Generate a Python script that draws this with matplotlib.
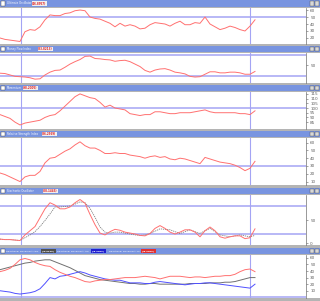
import numpy as np
import matplotlib
matplotlib.use('Agg')
import matplotlib.pyplot as plt
from matplotlib.patches import Rectangle

W, H = 320, 301

# bar index (one bar every 5 px in the reference)
days = np.arange(52)

ultimate = [20, 18, 17, 16, 15, 29, 32, 31, 36, 46, 53, 52, 52, 55, 56, 59, 60, 59, 50, 48,
            47, 44, 41, 36, 41, 37, 39, 37, 33, 34, 39, 42, 41, 40, 37, 41, 44, 39, 39, 42,
            41, 50, 40, 36, 32, 34, 37, 35, 32, 30, 37, 46]
mfi = [28, 27, 23, 19, 18, 17, 15, 11, 12, 23, 31, 36, 37, 45, 54, 61, 67, 76, 77, 70,
       69, 67, 66, 62, 64, 65, 61, 54, 47, 36, 31, 37, 40, 41, 37, 31, 29, 26, 19, 17,
       18, 25, 32, 32, 29, 29, 31, 31, 29, 25, 25, 33]
momentum = [93, 91, 89, 85, 82, 84, 85, 86, 87, 90, 92, 93, 97, 102, 107, 112, 115, 113, 111, 110,
            106, 101, 103, 100, 99, 98, 94, 93, 92, 93, 93, 96, 96, 95, 94, 94, 95, 95, 95, 96,
            97, 98, 96, 95, 95, 95, 95, 95, 94, 94, 93, 97]
rsi = [21, 19, 16, 13, 10, 16, 18, 18, 23, 34, 40, 41, 45, 49, 52, 57, 61, 56, 53, 53,
       50, 46, 46, 47, 46, 46, 44, 43, 42, 40, 42, 43, 41, 42, 39, 38, 40, 39, 37, 35,
       33, 41, 39, 37, 35, 34, 33, 31, 28, 24, 27, 36]
stoch_k = [9, 8, 8, 7, 6, 18, 27, 36, 55, 74, 87, 82, 74, 74, 78, 87, 94, 86, 62, 40,
           22, 18, 25, 30, 28, 24, 22, 20, 17, 16, 21, 32, 38, 32, 24, 20, 24, 29, 29, 24,
           14, 27, 35, 27, 14, 11, 14, 16, 16, 10, 12, 31]
stoch_d = [9, 8, 8, 7, 6, 12, 18, 25, 36, 49, 63, 78, 78, 79, 80, 84, 89, 87, 75, 56,
           35, 24, 22, 24, 24, 22, 20, 18, 17, 18, 21, 26, 31, 30, 29, 25, 21, 25, 29, 25,
           21, 27, 32, 25, 18, 16, 14, 16, 18, 16, 14, 17]
adx = [42, 44, 46, 48, 50, 52, 53, 55, 56, 57, 57, 54, 51, 48, 45, 41, 37, 33, 31, 29,
       27, 26, 25, 24, 23, 22, 21, 21, 20, 20, 21, 21, 20, 20, 20, 20, 20, 20, 21, 21,
       21, 21, 22, 22, 22, 23, 23, 24, 26, 28, 30, 30]
plus_di = [10, 9, 8, 6, 5, 6, 7, 9, 13, 21, 30, 28, 32, 33, 35, 37, 39, 37, 34, 32,
           30, 28, 27, 26, 26, 24, 22, 22, 22, 21, 21, 23, 24, 23, 22, 21, 20, 19, 20, 21,
           21, 22, 22, 21, 20, 19, 18, 17, 16, 15, 14, 20]
minus_di = [39, 41, 44, 50, 57, 59, 57, 53, 50, 48, 47, 42, 38, 35, 32, 30, 27, 24, 23, 25,
            26, 27, 27, 28, 29, 30, 30, 30, 31, 32, 31, 30, 28, 30, 32, 32, 32, 31, 30, 31,
            31, 30, 31, 32, 32, 33, 33, 35, 39, 42, 43, 39]

RED = '#ff7070'
LEVEL = '#a4a4f4'
HEAD = '#7894e0'
FS = 1.9

fig = plt.figure(figsize=(W / 100, H / 100), dpi=100)
fig.patch.set_facecolor('#b4b4b4')


def header(y0, y1, items, fs=FS, pad=0.15):
    fig.patches.append(Rectangle((0, 1 - y1 / H), 1, (y1 - y0) / H,
                                 transform=fig.transFigure, facecolor=HEAD,
                                 edgecolor='none', zorder=0))
    # little check box on the left and buttons on the right
    fig.patches.append(Rectangle((1 / W, 1 - (y1 - 1) / H), 4 / W, (y1 - y0 - 2) / H,
                                 transform=fig.transFigure, facecolor='white',
                                 edgecolor='#404040', lw=0.3, zorder=1))
    for bx in (310, 315):
        fig.patches.append(Rectangle((bx / W, 1 - (y1 - 1) / H), 4 / W, (y1 - y0 - 2) / H,
                                     transform=fig.transFigure, facecolor='#d8d8d8',
                                     edgecolor='#505050', lw=0.3, zorder=1))
    ym = 1 - (y0 + y1) / 2 / H
    for tx, txt, bx, badge, bfc, btc in items:
        fig.text(tx / W, ym, txt, fontsize=fs, color='white', va='center', ha='left')
        fig.text(bx / W, ym, badge, fontsize=fs, color=btc, va='center', ha='left',
                 fontweight='bold',
                 bbox=dict(boxstyle=f'square,pad={pad}', fc=bfc, ec='none'))


def panel(y0, y1, ylim, levels, ticks):
    fig.patches.append(Rectangle((0, 1 - y1 / H), 1, (y1 - y0) / H,
                                 transform=fig.transFigure, facecolor='white',
                                 edgecolor='none', zorder=0))
    ax = fig.add_axes([0, 1 - y1 / H, 306 / W, (y1 - y0) / H], zorder=3)
    ax.set_facecolor('white')
    ax.set_xlim(0, 306 / 5)
    ax.set_ylim(*ylim)
    for s in ('top', 'left', 'bottom'):
        ax.spines[s].set_visible(False)
    ax.spines['right'].set_color('#707070')
    ax.spines['right'].set_linewidth(0.5)
    ax.yaxis.tick_right()
    ax.set_yticks(ticks)
    ax.set_yticklabels([str(t) for t in ticks])
    ax.tick_params(axis='y', labelsize=3, length=1.5, width=0.4, pad=1.5,
                   colors='#606060')
    ax.set_xticks([])
    for lv in levels:
        ax.axhline(lv, color=LEVEL, lw=1.1, zorder=1)
    ax.axvline(4.2, color=LEVEL, lw=0.8, zorder=1)
    ax.axvline(50, color=LEVEL, lw=0.8, zorder=1)
    return ax


header(0, 7, [(7, 'Ultimate Oscillator', 32, '(46.8957)', '#f0f0f0', '#e02020')])
ax1 = panel(8, 44, (11.4, 62.9), [50], [20, 30, 40, 50, 60])
ax1.plot(days, ultimate, color=RED, lw=0.7)

header(46, 52, [(7, 'Money Flow Index', 38, '(33.8213)', '#f0f0f0', '#e02020')])
ax2 = panel(53, 83, (0, 85.7), [80, 20], [50])
ax2.plot(days, mfi, color=RED, lw=0.7)

header(85, 91, [(7, 'Momentum', 23, '(98.2005)', '#f0f0f0', '#e02020')])
ax3 = panel(92, 129, (77.7, 117), [100], [85, 90, 95, 100, 105, 110, 115])
ax3.plot(days, momentum, color=RED, lw=0.7)

header(131, 137, [(7, 'Relative Strength Index', 42, '(36.2969)', '#f0f0f0', '#e02020')])
ax4 = panel(138, 185, (5.6, 65.9), [30], [10, 20, 30, 40, 50, 60])
ax4.plot(days, rsi, color=RED, lw=0.7)

header(188, 194, [(7, 'Stochastic Oscillator', 43, '(20.1445)', '#f0f0f0', '#e02020')])
ax5 = panel(195, 245, (-3.6, 103.6), [80, 20], [0, 50])
ax5.plot(days, stoch_d, color='#808080', lw=0.6, ls=(0, (1.5, 1)))
ax5.plot(days, stoch_k, color=RED, lw=0.7)

header(248, 254, [(6, 'Directional Movement ADX', 42, '(29.8668)', '#505050', 'white'),
                  (57, 'Directional Movement +DI', 92, '(18.0000)', '#2020d0', 'white'),
                  (109, 'Directional Movement -DI', 142, '(38.0000)', '#e03030', 'white')],
       fs=1.7, pad=0.5)
ax6 = panel(255, 298, (-1, 64.3), [0], [10, 20, 30, 40, 50, 60])
ax6.plot(days, adx, color='#707070', lw=0.7)
ax6.plot(days, plus_di, color='#5050ff', lw=0.7)
ax6.plot(days, minus_di, color=RED, lw=0.7)

fig.savefig('out.png', dpi=100, facecolor=fig.get_facecolor())
